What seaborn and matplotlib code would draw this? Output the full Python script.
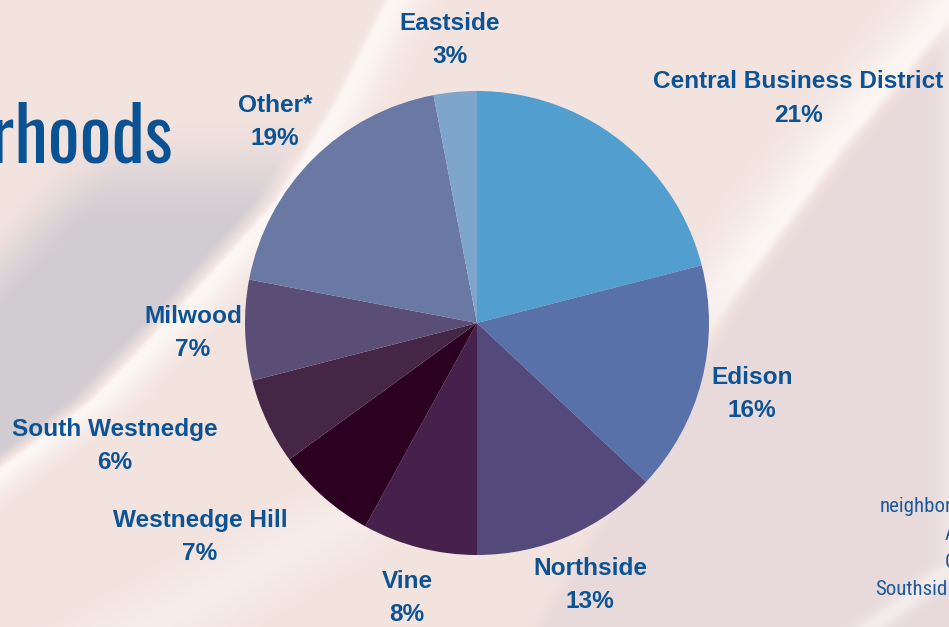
import numpy as np
import matplotlib.pyplot as plt
import seaborn as sns

# share of units by neighborhood, clockwise from 12 o'clock
neighborhoods = ['Central Business District', 'Edison', 'Northside', 'Vine',
                 'Westnedge Hill', 'South Westnedge', 'Milwood', 'Other*', 'Eastside']
shares = [21, 16, 13, 8, 7, 6, 7, 19, 3]
slice_colors = ['#529ecf', '#5872a9', '#53497b', '#45214b', '#2c0020',
                '#452647', '#5a4d76', '#6a79a3', '#7ea6cc']

# label centres, in pie-radius units from the pie centre
label_xy = [(1.384, 0.966), (1.185, -0.306), (0.487, -1.129), (-0.302, -1.185),
            (-1.194, -0.922), (-1.560, -0.530), (-1.224, -0.043), (-0.871, 0.866),
            (-0.116, 1.220)]

# cut-off footnote on the right edge of the slide
footnote_lines = ['neighbor', 'A', 'C', 'Southsid']
footnote_xy = [(880, 512), (945, 540), (945, 568), (875, 595)]

W, H = 949, 627
cx, cy, R = 477, 323, 232   # pie centre and radius in pixels
blue = '#0b5394'

sns.set_theme(style='white')
plt.rcParams['font.family'] = ['Liberation Sans', 'DejaVu Sans']


#Background (soft blurred photo look)
def smooth(v, a, b):
    t = np.clip((v - a) / (b - a), 0, 1)
    return t * t * (3 - 2 * t)


def blend(img, color, alpha):
    c = np.array(color) / 255
    return img * (1 - alpha[..., None]) + c * alpha[..., None]


yy, xx = np.mgrid[0:H, 0:W].astype(float)
img = np.ones((H, W, 3)) * np.array([243, 227, 223]) / 255

# greyer pink on the right, with a light streak along its edge
xr = np.interp(yy, [0, 150, 300, 627], [960, 835, 725, 520])
img = blend(img, (232, 218, 219), smooth(xx - xr, 2, 30))
d = xx - xr
glow = np.where(d < 0, np.exp(-(d / 45) ** 2), np.exp(-(d / 8) ** 2))
img = blend(img, (252, 248, 246), 0.9 * glow * (1 - smooth(yy, 260, 400)))

# grey band on the left, with a bright edge
xs = np.interp(yy, [0, 100, 200, 300, 400, 470, 627], [390, 340, 280, 190, 95, 0, -200])
d = xx - xs
grey = smooth(-d, 4, 30) * (1 - smooth(-d, 170, 270)) * smooth(yy, 110, 230)
img = blend(img, (209, 204, 210), grey)
glow = np.where(d < 0, np.exp(-(d / 6) ** 2), np.exp(-(d / 32) ** 2))
img = blend(img, (253, 249, 247), 0.9 * glow)

# faint light areas at the bottom
xb = np.interp(yy, [470, 627], [430, 150])
img = blend(img, (250, 243, 241), 0.6 * np.exp(-((xx - xb) / 70) ** 2) * smooth(yy, 440, 520))
xc = np.interp(yy, [560, 627], [960, 870])
img = blend(img, (250, 244, 243), 0.7 * np.exp(-((xx - xc) / 18) ** 2))

fig = plt.figure(figsize=(W / 100, H / 100), dpi=100)
bg = fig.add_axes([0, 0, 1, 1])
bg.imshow(np.clip(img, 0, 1), extent=(0, W, H, 0), aspect='auto', zorder=0)
bg.set_xlim(0, W)
bg.set_ylim(H, 0)
bg.axis('off')

# cut-off slide title
bg.text(173, 163, 'Neighborhoods', ha='right', va='baseline', fontsize=54,
        color='#0a5294', family=['Oswald', 'League Gothic', 'DejaVu Sans'])

for line, (fx, fy) in zip(footnote_lines, footnote_xy):
    bg.text(fx, fy, line, ha='left', va='baseline', fontsize=15, color='#1c5a9c',
            family=['Roboto Condensed', 'Roboto', 'DejaVu Sans'])

#Pie
ax = fig.add_axes([0, 0, 1, 1])
ax.patch.set_alpha(0)
ax.pie(shares, colors=sns.color_palette(slice_colors), startangle=90, counterclock=False,
       radius=1, wedgeprops=dict(linewidth=0, antialiased=True))

for name, val, (lx, ly) in zip(neighborhoods, shares, label_xy):
    ax.text(lx, ly, f'{name}\n{val}%', ha='center', va='center', multialignment='center',
            fontsize=17.6, fontweight='bold', color=blue, linespacing=1.6)

ax.set_xlim(-cx / R, (W - cx) / R)
ax.set_ylim(-(H - cy) / R, cy / R)
ax.axis('off')

fig.savefig('out.png', dpi=100)
